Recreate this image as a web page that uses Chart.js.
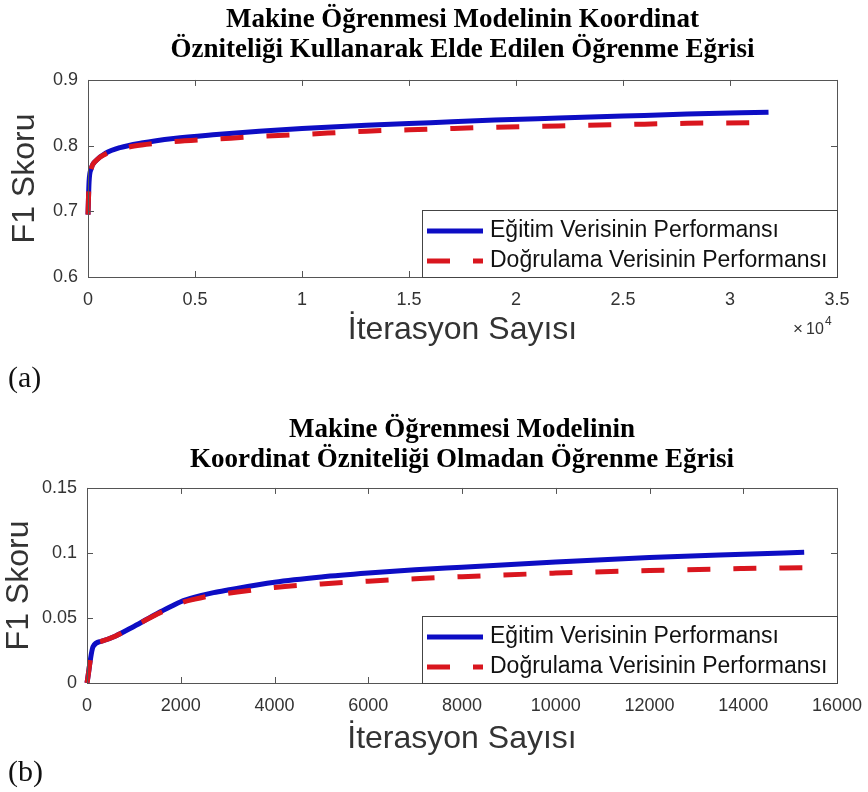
<!DOCTYPE html>
<html lang="tr">
<head>
    <meta charset="UTF-8">
    <title>Öğrenme Eğrileri</title>
    <style>
        body {
            margin: 0;
            background: #fff;
        }
        .page {
            position: relative;
            width: 868px;
            height: 792px;
            overflow: hidden;
        }
        canvas {
            position: absolute;
            left: 0;
        }
        .panel {
            position: absolute;
            left: 8px;
            font-family: "Liberation Serif", "Times New Roman", serif;
            font-size: 30px;
            line-height: 1;
            color: #111;
        }
    </style>
    <script src="https://cdn.jsdelivr.net/npm/chart.js"></script>
</head>
<body>

<div class="page">
    <canvas id="chartA" width="868" height="396" style="top:0"></canvas>
    <canvas id="chartB" width="868" height="396" style="top:396px"></canvas>
    <div class="panel" style="top:362px">(a)</div>
    <div class="panel" style="top:756px">(b)</div>
</div>

<script>
    // (a) with coordinate feature
    const iterA = [0, 50, 150, 400, 800, 1500, 2500, 4000, 6000, 8000, 10000, 13000, 16000, 19000, 22000, 25000, 28000, 31800];
    const trainA = [0.695, 0.745, 0.765, 0.778, 0.788, 0.797, 0.804, 0.811, 0.817, 0.822, 0.826, 0.831, 0.835, 0.839, 0.842, 0.845, 0.848, 0.851];
    const valA = [0.695, 0.745, 0.765, 0.778, 0.787, 0.795, 0.801, 0.806, 0.810, 0.814, 0.817, 0.822, 0.825, 0.828, 0.830, 0.832, 0.834, 0.835];

    // (b) without coordinate feature
    const iterB = [0, 130, 300, 600, 1000, 1500, 1800, 2000, 2300, 2700, 3000, 4000, 5000, 6000, 7000, 8000, 10000, 12000, 14000, 15300];
    const trainB = [0, 0.028, 0.032, 0.036, 0.0435, 0.0535, 0.059, 0.0625, 0.066, 0.0695, 0.0715, 0.0775, 0.0815, 0.0845, 0.087, 0.089, 0.093, 0.0965, 0.099, 0.1005];
    const valB = [0, 0.028, 0.032, 0.036, 0.0435, 0.053, 0.058, 0.0615, 0.0645, 0.0675, 0.069, 0.0735, 0.0762, 0.0783, 0.0802, 0.0818, 0.0845, 0.0865, 0.088, 0.0887];

    const seriesLabels = ['Eğitim Verisinin Performansı', 'Doğrulama Verisinin Performansı'];
    const titleA = ['Makine Öğrenmesi Modelinin Koordinat', 'Özniteliği Kullanarak Elde Edilen Öğrenme Eğrisi'];
    const titleB = ['Makine Öğrenmesi Modelinin', 'Koordinat Özniteliği Olmadan Öğrenme Eğrisi'];
    const xTitle = 'İterasyon Sayısı';
    const yTitle = 'F1 Skoru';

    const SANS = '"Liberation Sans", Arial, Helvetica, sans-serif';
    const SERIF = '"Liberation Serif", "Times New Roman", serif';
    const BLUE = '#0d0dc4';
    const RED = '#d9161e';

    function toPoints(xs, ys) {
        return xs.map((x, i) => ({ x: x, y: ys[i] }));
    }

    // axes box, inside ticks, legend and x exponent (MATLAB look)
    const framePlugin = {
        id: 'frame',
        afterDraw(chart, args, opts) {
            const ctx = chart.ctx;
            const a = chart.chartArea;
            const xs = chart.scales.x;
            const ys = chart.scales.y;
            ctx.save();
            ctx.strokeStyle = '#555';
            ctx.lineWidth = 1;
            ctx.setLineDash([]);
            ctx.beginPath();
            xs.ticks.forEach(t => {
                const px = Math.round(xs.getPixelForValue(t.value)) + 0.5;
                ctx.moveTo(px, a.bottom); ctx.lineTo(px, a.bottom - 6);
                ctx.moveTo(px, a.top); ctx.lineTo(px, a.top + 6);
            });
            ys.ticks.forEach(t => {
                const py = Math.round(ys.getPixelForValue(t.value)) + 0.5;
                ctx.moveTo(a.left, py); ctx.lineTo(a.left + 6, py);
                ctx.moveTo(a.right, py); ctx.lineTo(a.right - 6, py);
            });
            ctx.stroke();
            ctx.strokeRect(Math.round(a.left) + 0.5, Math.round(a.top) + 0.5,
                Math.round(a.right - a.left), Math.round(a.bottom - a.top));

            // legend box in the lower right corner
            const w = 415, h = 67;
            const lx = Math.round(a.right) - w, ly = Math.round(a.bottom) - h;
            ctx.fillStyle = '#fff';
            ctx.fillRect(lx, ly, w, h);
            ctx.strokeStyle = '#444';
            ctx.strokeRect(lx + 0.5, ly + 0.5, w, h);
            chart.data.datasets.forEach((ds, i) => {
                const yy = ly + 21 + i * 30;
                ctx.strokeStyle = ds.borderColor;
                ctx.lineWidth = 5;
                ctx.setLineDash(ds.borderDash || []);
                ctx.beginPath();
                ctx.moveTo(lx + 5, yy);
                ctx.lineTo(lx + 61, yy);
                ctx.stroke();
                ctx.setLineDash([]);
                ctx.fillStyle = '#111';
                ctx.font = '23px ' + SANS;
                ctx.textBaseline = 'middle';
                ctx.textAlign = 'left';
                ctx.fillText(ds.label, lx + 68, yy);
            });

            if (opts.exponent) {
                ctx.fillStyle = '#333';
                ctx.textBaseline = 'alphabetic';
                ctx.textAlign = 'left';
                ctx.font = '17px ' + SANS;
                ctx.fillText('\u00d7', 793, 334);
                ctx.font = '16px ' + SANS;
                ctx.fillText('10', 806, 334);
                ctx.font = '12px ' + SANS;
                ctx.fillText(opts.exponent, 825, 325);
            }
            ctx.restore();
        }
    };

    function makeChart(id, cfg) {
        return new Chart(document.getElementById(id), {
            type: 'line',
            data: {
                datasets: [{
                    label: seriesLabels[0],
                    data: toPoints(cfg.iters, cfg.train),
                    borderColor: BLUE,
                    borderWidth: 5,
                    pointRadius: 0,
                    cubicInterpolationMode: 'monotone',
                    clip: false,
                    fill: false,
                    order: 1
                }, {
                    label: seriesLabels[1],
                    data: toPoints(cfg.iters, cfg.val),
                    borderColor: RED,
                    borderWidth: 5,
                    borderDash: [23, 23],
                    pointRadius: 0,
                    cubicInterpolationMode: 'monotone',
                    clip: false,
                    fill: false,
                    order: 0
                }]
            },
            options: {
                responsive: false,
                animation: false,
                layout: {
                    padding: { left: 0, right: 31, top: 0, bottom: cfg.padBottom }
                },
                plugins: {
                    legend: { display: false },
                    tooltip: { enabled: false },
                    title: {
                        display: true,
                        fullSize: false,
                        text: cfg.title,
                        color: '#000',
                        font: { family: SERIF, size: 27, weight: 'bold', lineHeight: 1.11 },
                        padding: cfg.titlePad
                    },
                    frame: { exponent: cfg.exponent }
                },
                scales: {
                    x: {
                        type: 'linear',
                        min: 0,
                        max: cfg.xMax,
                        grid: { display: false, drawTicks: false, tickLength: 0 },
                        border: { display: false },
                        afterFit: scale => {
                            scale.height = cfg.xHeight;
                            scale.paddingLeft = 0;
                            scale.paddingRight = 0;
                        },
                        ticks: {
                            stepSize: cfg.xStep,
                            padding: 12,
                            color: '#333',
                            font: { family: SANS, size: 18 },
                            maxRotation: 0,
                            callback: cfg.xFormat
                        },
                        title: {
                            display: true,
                            text: xTitle,
                            color: '#333',
                            font: { family: SANS, size: 32 },
                            padding: { top: 0, bottom: 0 }
                        }
                    },
                    y: {
                        min: cfg.yMin,
                        max: cfg.yMax,
                        grid: { display: false, drawTicks: false, tickLength: 0 },
                        border: { display: false },
                        afterFit: scale => { scale.width = cfg.yWidth; },
                        ticks: {
                            stepSize: cfg.yStep,
                            padding: 10,
                            color: '#333',
                            font: { family: SANS, size: 18 },
                            callback: v => String(Number(v.toFixed(2)))
                        },
                        title: {
                            display: true,
                            text: yTitle,
                            color: '#333',
                            font: { family: SANS, size: 32 },
                            padding: { top: cfg.yTitlePad, bottom: 0 }
                        }
                    }
                }
            },
            plugins: [framePlugin]
        });
    }

    makeChart('chartA', {
        iters: iterA, train: trainA, val: valA,
        title: titleA,
        titlePad: { top: 5, bottom: 15 },
        xMax: 35000, xStep: 5000,
        xFormat: v => String(v / 10000),
        yMin: 0.6, yMax: 0.9, yStep: 0.1,
        yWidth: 88, yTitlePad: 6,
        xHeight: 72,
        padBottom: 47,
        exponent: '4'
    });

    makeChart('chartB', {
        iters: iterB, train: trainB, val: valB,
        title: titleB,
        titlePad: { top: 19, bottom: 13 },
        xMax: 16000, xStep: 2000,
        xFormat: v => String(v),
        yMin: 0, yMax: 0.15, yStep: 0.05,
        yWidth: 87, yTitlePad: 0,
        xHeight: 75,
        padBottom: 34,
        exponent: null
    });
</script>

</body>
</html>
